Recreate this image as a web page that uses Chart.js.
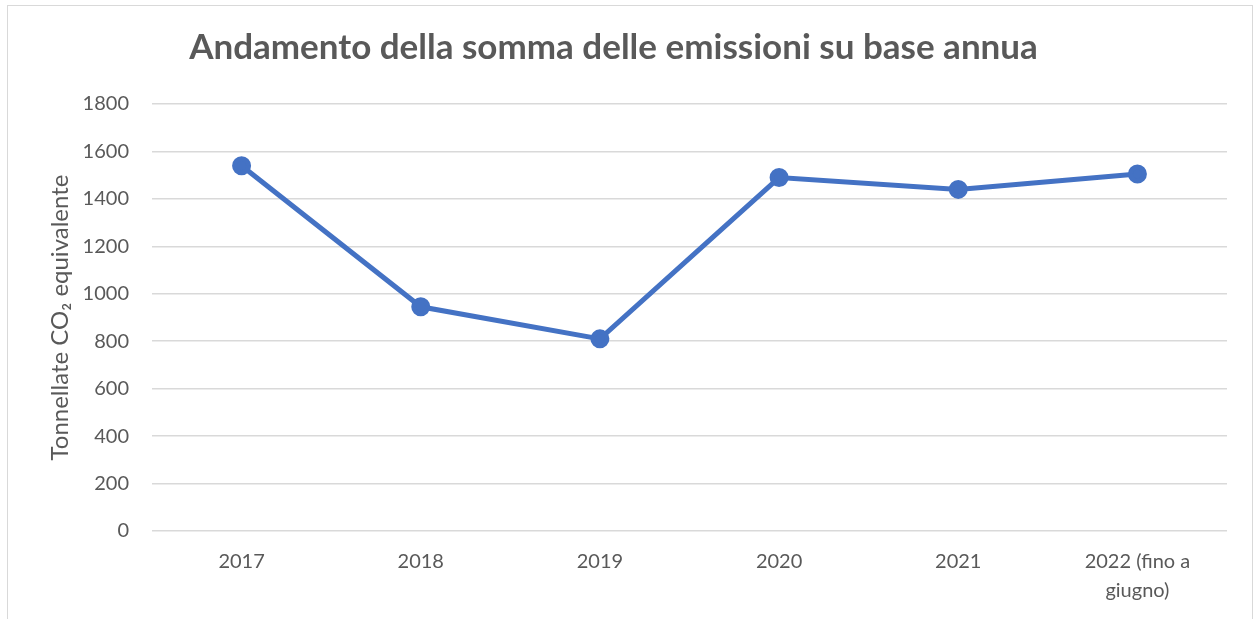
<!DOCTYPE html>
<html>
<head>
<meta charset="utf-8">
<script src="https://cdn.jsdelivr.net/npm/chart.js@4/dist/chart.umd.min.js"></script>
<style>
  html, body { margin: 0; padding: 0; background: #fff; }
  #frame {
    position: absolute; left: 7px; top: 5px; width: 1244px; height: 640px;
    border: 1px solid #d9d9d9;
  }
  #wrap { position: absolute; left: 0; top: 0; width: 1257px; height: 619px; }
</style>
</head>
<body>
<div id="frame"></div>
<div id="wrap"><canvas id="chart"></canvas></div>
<script>
// data
const years = ["2017", "2018", "2019", "2020", "2021", ["2022 (fino a", "giugno)"]];
const emissions = [1540, 945, 810, 1490, 1440, 1505];
const yTicks = [0, 200, 400, 600, 800, 1000, 1200, 1400, 1600, 1800];

const chartTitle = "Andamento della somma delle emissioni su base annua";
const yTitle = "Tonnellate CO\u2082 equivalente";

const fontFam = "Lato, 'Open Sans', sans-serif";
const grey = "#595959";

const ctx = document.getElementById("chart");

new Chart(ctx, {
    type: 'line',
    data: {
        labels: years,
        datasets: [{
            data: emissions,
            borderColor: '#4472C4',
            backgroundColor: '#4472C4',
            borderWidth: 5,
            pointRadius: 7,
            pointHoverRadius: 7,
            tension: 0
        }]
    },
    options: {
        responsive: true,
        maintainAspectRatio: false,
        animation: false,
        layout: { padding: { left: 0, right: 30, top: 0, bottom: 0 } },
        plugins: {
            legend: { display: false },
            tooltip: { enabled: false },
            title: {
                display: true,
                text: chartTitle,
                color: grey,
                font: { family: fontFam, size: 35, weight: 'bold' },
                padding: { top: 27, bottom: 35 }
            }
        },
        scales: {
            x: {
                offset: true,
                grid: { display: false, drawTicks: false },
                border: { display: false },
                ticks: {
                    color: grey,
                    font: { family: fontFam, size: 20, lineHeight: 1.45 },
                    padding: 16,
                    maxRotation: 0
                },
                afterFit: scale => { scale.height = 88; }
            },
            y: {
                min: 0,
                max: 1800,
                afterBuildTicks: scale => {
                    scale.ticks = yTicks.map(v => ({ value: v }));
                },
                grid: { color: '#d9d9d9', lineWidth: 1.5, drawTicks: false },
                border: { display: false },
                ticks: {
                    color: grey,
                    font: { family: fontFam, size: 20 },
                    padding: 23,
                    callback: v => String(v)
                },
                title: {
                    display: true,
                    text: yTitle,
                    color: grey,
                    font: { family: fontFam, size: 24 },
                    padding: { top: 46, bottom: 0 }
                },
                afterFit: scale => { scale.width = 152; }
            }
        }
    }
});
</script>
</body>
</html>
